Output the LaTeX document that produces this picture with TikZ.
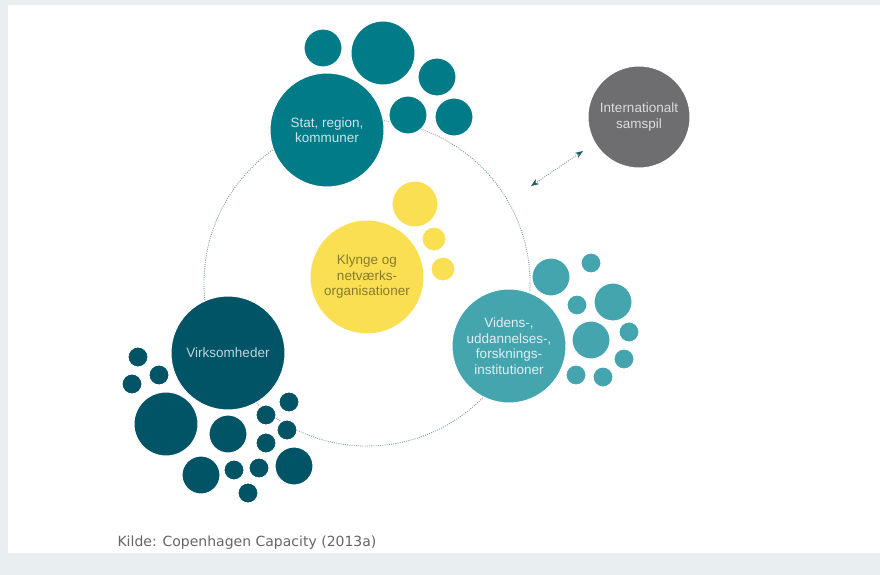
\documentclass[tikz,border=0pt]{standalone}
\usepackage{fontspec}
\setmainfont{Liberation Sans}
\newfontfamily\srcfont{DejaVu Sans}
\usepackage{xcolor}
\usetikzlibrary{arrows.meta}
\definecolor{pagegray}{HTML}{E9EEF1}
\definecolor{statcol}{HTML}{007B87}
\definecolor{virkcol}{HTML}{005466}
\definecolor{vidcol}{HTML}{45A5AF}
\definecolor{klycol}{HTML}{FADF52}
\definecolor{intcol}{HTML}{6E6E70}
\definecolor{ringcol}{HTML}{7F97A6}
\definecolor{tipcol}{HTML}{1D5E6C}

\begin{document}
\begin{tikzpicture}[x=1pt,y=-1pt]
\tikzset{bubble/.style={circle,draw=white,line width=1pt,inner sep=0pt,align=center,font=\fontsize{13.5}{15.5}\selectfont}}
\tikzset{stat/.style={bubble,fill=statcol,text=white!80!statcol}}
\tikzset{virk/.style={bubble,fill=virkcol,text=white!75!virkcol}}
\tikzset{vid/.style={bubble,fill=vidcol,text=white!82!vidcol}}
\tikzset{kly/.style={bubble,fill=klycol,text=black!45!klycol}}
\tikzset{intl/.style={bubble,fill=intcol,text=white!75!intcol}}
\tikzset{ring/.style={ringcol,line width=0.9pt,dash pattern=on 0.9pt off 1.3pt}}
\tikzset{link/.style={ringcol,line width=0.9pt,dash pattern=on 0.9pt off 1.3pt,{Stealth[tipcol,length=8pt,width=6pt]}-{Stealth[tipcol,length=8pt,width=6pt]}}}

\useasboundingbox (0,0) rectangle (880,575);
\fill[pagegray] (0,0) rectangle (880,575);
\fill[white] (8,5) rectangle (880,553);

% the cycle behind the actors
\coordinate (ctr) at (367,283);
\draw[ring] (ctr) circle[radius=163];

% public sector
\node[stat,minimum size=114pt] (stat) at (327,130) {Stat, region,\\kommuner};
\node[stat,minimum size=38pt] (stat1) at (323,48) {};
\node[stat,minimum size=64pt] (stat2) at (383,53) {};
\node[stat,minimum size=38pt] (stat3) at (437,77) {};
\node[stat,minimum size=38pt] (stat4) at (408,115) {};
\node[stat,minimum size=38pt] (stat5) at (454,117) {};

% cluster organisations
\node[kly,minimum size=114pt] (kly) at (367,277) {Klynge og\\netværks-\\organisationer};
\node[kly,minimum size=46pt] (kly1) at (415,204) {};
\node[kly,minimum size=24pt] (kly2) at (434,239) {};
\node[kly,minimum size=24pt] (kly3) at (443,269) {};

% companies
\node[virk,minimum size=114pt] (virk) at (228,353) {Virksomheder};
\node[virk,minimum size=20pt] (virk1) at (138,357) {};
\node[virk,minimum size=20pt] (virk2) at (159,375) {};
\node[virk,minimum size=20pt] (virk3) at (132,384) {};
\node[virk,minimum size=64pt] (virk4) at (166,424) {};
\node[virk,minimum size=38pt] (virk5) at (228,434) {};
\node[virk,minimum size=20pt] (virk6) at (266,415) {};
\node[virk,minimum size=20pt] (virk7) at (289,402) {};
\node[virk,minimum size=20pt] (virk8) at (287,430) {};
\node[virk,minimum size=20pt] (virk9) at (266,443) {};
\node[virk,minimum size=38pt] (virk10) at (201,475) {};
\node[virk,minimum size=20pt] (virk11) at (234,470) {};
\node[virk,minimum size=20pt] (virk12) at (259,468) {};
\node[virk,minimum size=38pt] (virk13) at (294,466) {};
\node[virk,minimum size=20pt] (virk14) at (248,493) {};

% knowledge institutions
\node[vid,minimum size=114pt] (vid) at (509,346) {Videns-,\\uddannelses-,\\forsknings-\\institutioner};
\node[vid,minimum size=38pt] (vid1) at (551,277) {};
\node[vid,minimum size=20pt] (vid2) at (591,263) {};
\node[vid,minimum size=20pt] (vid3) at (577,305) {};
\node[vid,minimum size=38pt] (vid4) at (613,302) {};
\node[vid,minimum size=38pt] (vid5) at (591,340) {};
\node[vid,minimum size=20pt] (vid6) at (629,332) {};
\node[vid,minimum size=20pt] (vid7) at (624,359) {};
\node[vid,minimum size=20pt] (vid8) at (576,375) {};
\node[vid,minimum size=20pt] (vid9) at (603,377) {};

% international
\node[intl,minimum size=102pt] (intl) at (639,117) {Internationalt\\samspil};
\coordinate (arrA) at (531,186);
\coordinate (arrB) at (583,151);
\draw[link] (arrA) -- (arrB);

\node[anchor=west,text=black!60,font=\srcfont\fontsize{14}{16}\selectfont] (kilde) at (114,543) {Kilde: Copenhagen Capacity (2013a)};

\end{tikzpicture}
\end{document}
